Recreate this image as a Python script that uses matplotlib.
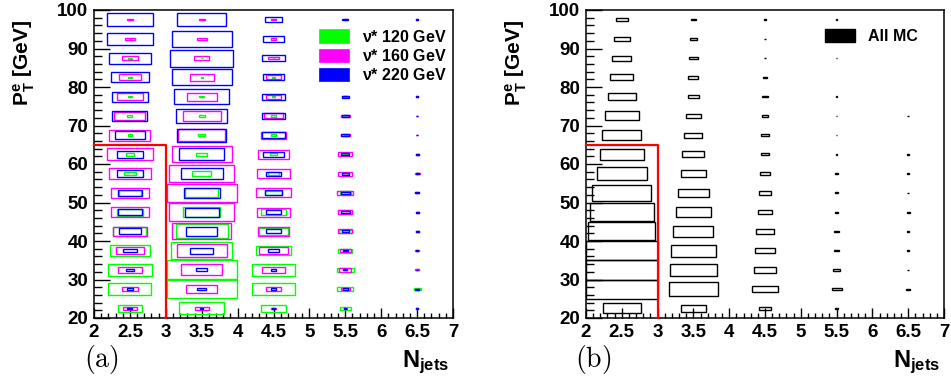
import matplotlib
matplotlib.use("Agg")
import matplotlib.pyplot as plt
from matplotlib.patches import Rectangle, Patch
from matplotlib.ticker import MultipleLocator, FormatStrFormatter

plt.rcParams['font.family'] = ['Liberation Sans', 'DejaVu Sans']
plt.rcParams['font.weight'] = 'bold'
plt.rcParams['mathtext.fontset'] = 'custom'
plt.rcParams['mathtext.rm'] = 'Liberation Sans:bold'
plt.rcParams['mathtext.bf'] = 'Liberation Sans:bold'
plt.rcParams['mathtext.it'] = 'Liberation Sans:bold'

# bin centres
njet_centres = [2.5, 3.5, 4.5, 5.5, 6.5]
pt_centres = [22.5, 27.5, 32.5, 37.5, 42.5, 47.5, 52.5, 57.5,
              62.5, 67.5, 72.5, 77.5, 82.5, 87.5, 92.5, 97.5]

# relative box size per bin, one list per Njets column (pt from 22.5 up)
nu120 = [
    [0.33, 0.60, 0.61, 0.56, 0.46, 0.37, 0.30, 0.16, 0.12, 0.065, 0.07, 0.065, 0.065, 0.06, 0.03, 0],
    [0.62, 0.97, 0.98, 0.85, 0.72, 0.51, 0.46, 0.26, 0.16, 0.09, 0.08, 0.065, 0.03, 0.03, 0.02, 0],
    [0.35, 0.59, 0.59, 0.50, 0.40, 0.34, 0.24, 0.14, 0.11, 0.08, 0.065, 0.04, 0.03, 0.02, 0.02, 0],
    [0.16, 0.22, 0.23, 0.20, 0.18, 0.19, 0.15, 0.10, 0.08, 0.05, 0.04, 0.03, 0.02, 0.02, 0, 0],
    [0.02, 0.10, 0.04, 0.03, 0.02, 0.03, 0.02, 0.02, 0.02, 0, 0, 0, 0, 0, 0, 0],
]
nu160 = [
    [0.19, 0.23, 0.33, 0.39, 0.48, 0.54, 0.54, 0.58, 0.63, 0.57, 0.43, 0.37, 0.30, 0.23, 0.14, 0.08],
    [0.19, 0.44, 0.57, 0.70, 0.83, 0.91, 0.97, 0.91, 0.84, 0.66, 0.53, 0.42, 0.33, 0.21, 0.14, 0.08],
    [0.08, 0.20, 0.31, 0.39, 0.43, 0.46, 0.48, 0.45, 0.43, 0.36, 0.26, 0.21, 0.20, 0.14, 0.08, 0.065],
    [0.05, 0.12, 0.17, 0.16, 0.20, 0.20, 0.22, 0.20, 0.20, 0.13, 0.13, 0.08, 0.06, 0.05, 0.04, 0.04],
    [0.02, 0.04, 0.06, 0.05, 0.04, 0.04, 0.05, 0.07, 0.04, 0.03, 0.02, 0.02, 0.02, 0.02, 0.02, 0.02],
]
nu220 = [
    [0.07, 0.09, 0.11, 0.19, 0.30, 0.33, 0.33, 0.37, 0.37, 0.42, 0.49, 0.51, 0.53, 0.58, 0.65, 0.65],
    [0.04, 0.12, 0.16, 0.32, 0.44, 0.47, 0.50, 0.59, 0.62, 0.68, 0.71, 0.76, 0.84, 0.88, 0.84, 0.68],
    [0.04, 0.065, 0.08, 0.14, 0.20, 0.22, 0.25, 0.20, 0.28, 0.33, 0.31, 0.31, 0.30, 0.33, 0.30, 0.25],
    [0.03, 0.07, 0.06, 0.07, 0.10, 0.12, 0.12, 0.10, 0.11, 0.11, 0.10, 0.10, 0.10, 0.10, 0.09, 0.08],
    [0.02, 0.06, 0.03, 0.03, 0.04, 0.04, 0.05, 0.04, 0.04, 0.03, 0.03, 0.03, 0.03, 0.03, 0.03, 0.02],
]
all_mc = [
    [0.53, 1.0, 1.0, 1.0, 0.94, 0.90, 0.82, 0.70, 0.61, 0.54, 0.47, 0.39, 0.32, 0.26, 0.22, 0.17],
    [0.35, 0.69, 0.66, 0.62, 0.56, 0.49, 0.43, 0.35, 0.31, 0.25, 0.20, 0.16, 0.14, 0.12, 0.09, 0.08],
    [0.16, 0.35, 0.30, 0.27, 0.25, 0.20, 0.17, 0.14, 0.11, 0.10, 0.075, 0.075, 0.05, 0.025, 0.025, 0.025],
    [0.05, 0.14, 0.09, 0.07, 0.07, 0.05, 0.05, 0.04, 0.025, 0.025, 0.025, 0.025, 0, 0.025, 0.025, 0.025],
    [0, 0.05, 0.02, 0.02, 0.02, 0.04, 0.02, 0.02, 0.02, 0, 0.02, 0, 0, 0, 0, 0],
]

# selection cut: Njets < 3 and pT < 65
cut_x = [2, 3, 3]
cut_y = [65, 65, 20]

xbin, ybin = 1.0, 5.0


def draw_boxes(ax, sizes, color):
    for xc, col in zip(njet_centres, sizes):
        for yc, f in zip(pt_centres, col):
            if f <= 0:
                continue
            w, h = f * xbin, f * ybin
            ax.add_patch(Rectangle((xc - w / 2, yc - h / 2), w, h, fill=False,
                                   edgecolor=color, lw=1.0, zorder=2))


def style(ax, tag):
    ax.set_xlim(2, 7)
    ax.set_ylim(20, 100)
    ax.xaxis.set_major_locator(MultipleLocator(0.5))
    ax.xaxis.set_minor_locator(MultipleLocator(0.1))
    ax.xaxis.set_major_formatter(FormatStrFormatter('%g'))
    ax.yaxis.set_major_locator(MultipleLocator(10))
    ax.yaxis.set_minor_locator(MultipleLocator(2))
    ax.tick_params(which='both', direction='in', labelsize=13.5, width=1, pad=4)
    ax.tick_params(axis='x', which='major', length=7)
    ax.tick_params(axis='x', which='minor', length=3.5)
    ax.tick_params(axis='y', which='major', length=11.5)
    ax.tick_params(axis='y', which='minor', length=5.5)
    for s in ax.spines.values():
        s.set_linewidth(1.1)
    ax.plot(cut_x, cut_y, color='red', lw=1.6, zorder=3, clip_on=False)
    bb = ax.get_position()
    fig.text(bb.x0 - 70 / 951, 1 - 63 / 382, r'$\mathbf{P_T^e}$ [GeV]', rotation=90,
             ha='center', va='center', fontsize=15, fontweight='bold')
    fig.text(bb.x0 + 7 / 951, 1 - 359 / 382, r'$(\mathrm{' + tag + r'})$',
             math_fontfamily='cm', fontsize=20, ha='center', va='center')
    fig.text(bb.x1 - 27 / 951, 1 - 362 / 382, r'$\mathbf{N_{jets}}$',
             fontsize=17, ha='center', va='center')


fig = plt.figure(figsize=(9.51, 3.82), dpi=100)
ax1 = fig.add_axes([94 / 951, 64 / 382, 359 / 951, 308 / 382])
ax2 = fig.add_axes([586 / 951, 64 / 382, 358 / 951, 308 / 382])

draw_boxes(ax1, nu120, '#00ff00')
draw_boxes(ax1, nu160, '#ff00ff')
draw_boxes(ax1, nu220, '#0000ff')
draw_boxes(ax2, all_mc, 'black')

style(ax1, 'a')
style(ax2, 'b')

h1 = [Patch(facecolor=c, edgecolor=c, lw=0.5) for c in ['#00ff00', '#ff00ff', '#0000ff']]
leg1 = ax1.legend(h1, [r'$\nu$* 120 GeV', r'$\nu$* 160 GeV', r'$\nu$* 220 GeV'],
                  loc='upper left', bbox_to_anchor=(0.622, 0.945), frameon=True,
                  fancybox=False, edgecolor='none', facecolor='white', framealpha=1,
                  handlelength=1.9, handleheight=0.9, handletextpad=0.8,
                  labelspacing=0.2, borderpad=0.1, fontsize=11.5, borderaxespad=0)
leg1.set_zorder(5)

h2 = [Patch(facecolor='black', edgecolor='black')]
leg2 = ax2.legend(h2, ['All MC'], loc='upper left', bbox_to_anchor=(0.662, 0.945),
                  frameon=True, fancybox=False, edgecolor='none', facecolor='white',
                  framealpha=1, handlelength=1.9, handleheight=0.9, handletextpad=0.8,
                  borderpad=0.1, fontsize=11.5, borderaxespad=0)
leg2.set_zorder(5)

fig.savefig('out.png', dpi=100)
